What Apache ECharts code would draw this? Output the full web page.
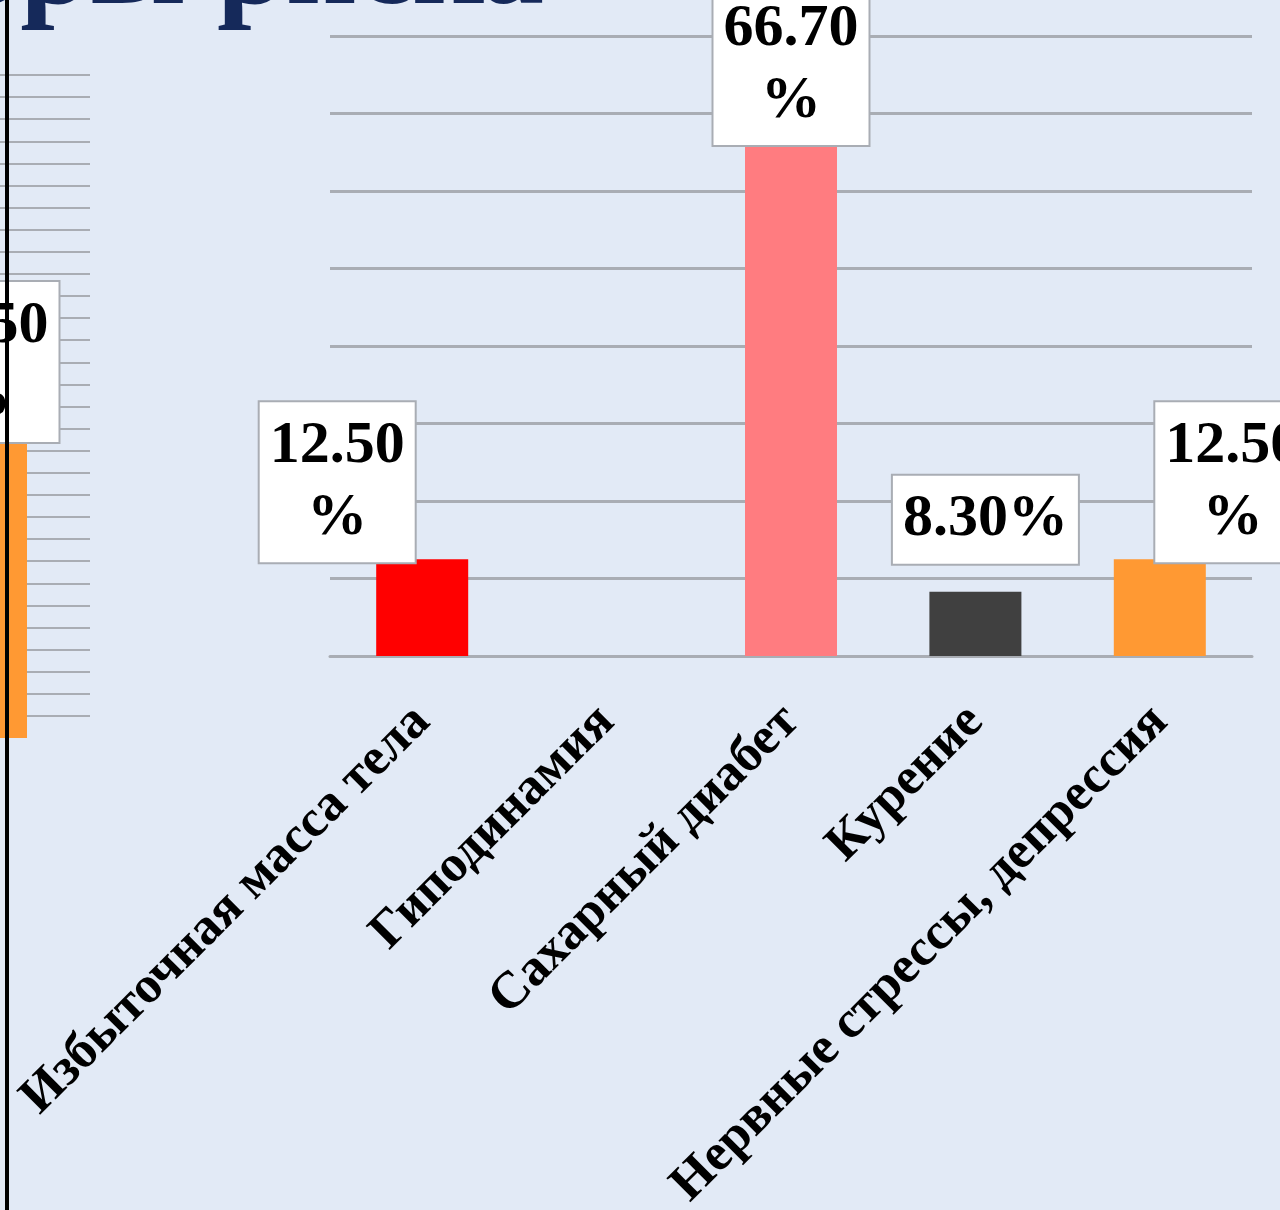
<!DOCTYPE html>
<html>
<head>
<meta charset="utf-8">
<script src="https://cdn.jsdelivr.net/npm/echarts@6/dist/echarts.min.js"></script>
<style>
  html, body { margin: 0; padding: 0; background: #e2eaf6; }
  #chart { width: 1280px; height: 1210px; }
</style>
</head>
<body>
<div id="chart"></div>
<script>
// data
const categories = ['Избыточная масса тела', 'Гиподинамия', 'Сахарный диабет', 'Курение', 'Нервные стрессы, депрессия'];
const shares = [12.5, null, 66.7, 8.3, 12.5];
// neighbouring chart, only its right edge is visible
const leftCategories = [''];
const leftShares = [37.5];
const titleText = 'Факторы риска';

const barColors = ['#ff0000', '#ffc000', '#ff7c80', '#404040', '#ff9933'];
// PowerPoint had moved some labels by hand
const labelShift = [[-85, 3], [0, 0], [0, 6], [10, -28], [73, 3]];

const serif = 'Liberation Serif';
const gridGray = '#a9adb4';

function pct(p) {
    let s = p.value.toFixed(2);
    return p.value >= 10 ? s + '\n%' : s + '%';
}

let labelBox = {
    show: true,
    position: 'top',
    distance: 0,
    formatter: pct,
    fontFamily: serif,
    fontWeight: 'bold',
    fontSize: 60,
    lineHeight: 72,
    color: '#000',
    backgroundColor: '#fff',
    borderColor: gridGray,
    borderWidth: 2,
    padding: [8, 10]
};

let option = {
    backgroundColor: '#e2eaf6',
    animation: false,
    grid: [
        {left: 330, right: 28, top: 36, bottom: 554, outerBoundsMode: 'none'},
        {left: -128, width: 218, top: 75, height: 663, outerBoundsMode: 'none'}
    ],
    xAxis: [{
        type: 'category',
        gridIndex: 0,
        data: categories,
        axisTick: {show: false},
        axisLine: {lineStyle: {color: gridGray, width: 3}},
        axisLabel: {
            interval: 0,
            rotate: 45,
            margin: 58,
            fontFamily: serif,
            fontWeight: 'bold',
            fontSize: 52,
            color: '#000'
        }
    }, {
        type: 'category',
        gridIndex: 1,
        data: leftCategories,
        axisTick: {show: false},
        axisLine: {show: false},
        axisLabel: {show: false}
    }],
    yAxis: [{
        type: 'value',
        gridIndex: 0,
        min: 0,
        max: 80,
        interval: 10,
        axisLabel: {show: false},
        axisLine: {show: false},
        axisTick: {show: false},
        splitLine: {lineStyle: {color: gridGray, width: 3}}
    }, {
        type: 'value',
        gridIndex: 1,
        min: 0,
        max: 84,
        interval: 2.8,
        axisLabel: {show: false},
        axisLine: {show: false},
        axisTick: {show: false},
        splitLine: {showMinLine: false, lineStyle: {color: gridGray, width: 2}}
    }],
    series: [{
        type: 'bar',
        xAxisIndex: 0,
        yAxisIndex: 0,
        barWidth: 92,
        label: labelBox,
        data: shares.map((v, i) => ({
            value: v,
            itemStyle: {color: barColors[i]},
            label: {offset: labelShift[i]}
        }))
    }, {
        type: 'bar',
        xAxisIndex: 1,
        yAxisIndex: 1,
        barWidth: 92,
        itemStyle: {color: '#ff9933'},
        label: labelBox,
        data: leftShares
    }],
    graphic: [{
        type: 'text',
        right: 1280 - 544,
        top: -91,
        style: {
            text: titleText,
            font: 'bold 124px "Liberation Serif"',
            fill: '#15295a'
        }
    }, {
        type: 'rect',
        z: 100,
        shape: {x: 5, y: 0, width: 4, height: 1210},
        style: {fill: '#000'}
    }]
};

let myChart = echarts.init(document.getElementById('chart'));
myChart.setOption(option);
</script>
</body>
</html>
